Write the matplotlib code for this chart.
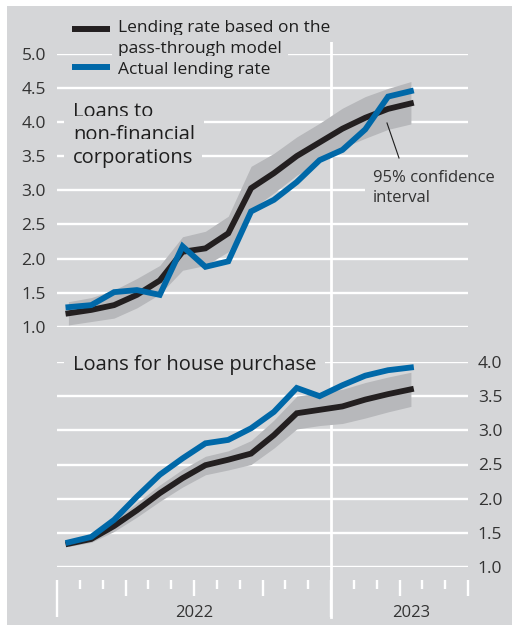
import numpy as np
import matplotlib
matplotlib.use("Agg")
import matplotlib.pyplot as plt
from matplotlib.lines import Line2D
from matplotlib.patches import Rectangle
import matplotlib.transforms as mtransforms

# ---- data (monthly, Jan 2022 .. Apr 2023) ----
months = np.arange(16) + 0.5  # mid-month positions, 0 = start of Jan 2022

nfc_model = [1.20, 1.25, 1.32, 1.47, 1.68, 2.10, 2.15, 2.37, 3.03, 3.25, 3.50, 3.70, 3.90, 4.06, 4.19, 4.27]
nfc_actual = [1.29, 1.32, 1.51, 1.54, 1.47, 2.18, 1.88, 1.96, 2.69, 2.86, 3.12, 3.44, 3.59, 3.89, 4.37, 4.45]
nfc_upper = [1.37, 1.43, 1.54, 1.71, 1.90, 2.32, 2.40, 2.62, 3.35, 3.54, 3.78, 3.98, 4.20, 4.37, 4.49, 4.59]
nfc_lower = [1.03, 1.08, 1.13, 1.28, 1.48, 1.83, 1.90, 2.10, 2.72, 2.96, 3.22, 3.42, 3.62, 3.76, 3.89, 3.97]

hp_model = [1.34, 1.41, 1.60, 1.83, 2.08, 2.30, 2.49, 2.57, 2.66, 2.93, 3.25, 3.30, 3.35, 3.45, 3.53, 3.60]
hp_actual = [1.36, 1.44, 1.69, 2.03, 2.35, 2.59, 2.81, 2.86, 3.03, 3.27, 3.62, 3.50, 3.66, 3.80, 3.88, 3.92]
hp_upper = [1.38, 1.47, 1.68, 1.94, 2.20, 2.43, 2.62, 2.70, 2.85, 3.15, 3.50, 3.55, 3.60, 3.70, 3.78, 3.85]
hp_lower = [1.30, 1.36, 1.52, 1.73, 1.96, 2.17, 2.35, 2.42, 2.50, 2.74, 3.02, 3.07, 3.10, 3.18, 3.27, 3.35]

top_ticks = [1.0, 1.5, 2.0, 2.5, 3.0, 3.5, 4.0, 4.5, 5.0]
bot_ticks = [1.0, 1.5, 2.0, 2.5, 3.0, 3.5, 4.0]
year_labels = ["2022", "2023"]
year_centers = [6, 15.5]

# ---- style ----
BG = "#d5d6d8"
BAND = "#b7b8bb"
BLACK = "#231f20"
BLUE = "#0068a8"
TXT = "#1e1e1e"
TICK = "#333333"
FONT = ["Open Sans", "DejaVu Sans"]
plt.rcParams["font.family"] = FONT

W, H = 512, 625
fig = plt.figure(figsize=(W / 100, H / 100), dpi=100, facecolor="white")

def fx(x):
    return x / W

def fy(y):
    return 1 - y / H

fig.add_artist(Rectangle((fx(7), 0), 1 - fx(7), fy(6), transform=fig.transFigure,
                         facecolor=BG, edgecolor="none", zorder=-10))

L, R = 57, 468
ax1 = fig.add_axes([fx(L), fy(327), fx(R) - fx(L), fy(53.5) - fy(327)])
ax2 = fig.add_axes([fx(L), fy(567), fx(R) - fx(L), fy(362) - fy(567)])

GRID_LW = 1.7
LINE_LW = 4.2
TICK_FS = 12.5

for ax, ticks, side in [(ax1, top_ticks, "left"), (ax2, bot_ticks, "right")]:
    ax.set_facecolor("none")
    ax.set_xlim(0, 18)
    ax.set_ylim(ticks[0], ticks[-1])
    for s in ax.spines.values():
        s.set_visible(False)
    ax.set_xticks([])
    ax.set_yticks(ticks)
    ax.set_yticklabels([f"{t:.1f}" for t in ticks])
    ax.grid(axis="y", color="white", lw=GRID_LW, zorder=0)
    ax.set_axisbelow(True)
    if side == "left":
        ax.tick_params(axis="y", length=0, pad=8, labelsize=TICK_FS, labelcolor=TICK)
    else:
        ax.yaxis.tick_right()
        ax.tick_params(axis="y", length=0, pad=7, labelsize=TICK_FS, labelcolor=TICK,
                       left=False, labelleft=False, right=False, labelright=True)

ax1.fill_between(months, nfc_lower, nfc_upper, color=BAND, lw=0, zorder=2)
ax1.plot(months, nfc_model, color=BLACK, lw=LINE_LW, zorder=3, solid_joinstyle="miter")
ax1.plot(months, nfc_actual, color=BLUE, lw=LINE_LW, zorder=4, solid_joinstyle="miter")

ax2.fill_between(months, hp_lower, hp_upper, color=BAND, lw=0, zorder=2)
ax2.plot(months, hp_model, color=BLACK, lw=LINE_LW, zorder=3, solid_joinstyle="miter")
ax2.plot(months, hp_actual, color=BLUE, lw=LINE_LW, zorder=4, solid_joinstyle="miter")

# year separator
trans = mtransforms.blended_transform_factory(ax1.transData, fig.transFigure)
fig.add_artist(Line2D([12, 12], [fy(42), fy(617)], transform=trans,
                      color="white", lw=2.0, zorder=-5))

# x ticks
axt = fig.add_axes([fx(L), fy(617), fx(R) - fx(L), fy(580) - fy(617)])
axt.set_facecolor("none")
axt.set_axis_off()
axt.set_xlim(0, 18)
axt.set_ylim(37, 0)
for m in range(0, 19):
    if m % 12 == 0:
        ln = 37
    elif m % 3 == 0:
        ln = 16
    else:
        ln = 9
    axt.plot([m, m], [0, ln], color="white", lw=GRID_LW, clip_on=False,
             solid_capstyle="butt")
for c, lab in zip(year_centers, year_labels):
    axt.text(c, 37, lab, ha="center", va="baseline", fontsize=12, color=TICK)

# text helper
def boxed(x, y, s, size, color=TXT, pad=0.35):
    fig.text(fx(x), fy(y), s, ha="left", va="baseline", fontsize=size, color=color,
             zorder=5, bbox=dict(boxstyle=f"square,pad={pad}", fc=BG, ec="none"))

# legend
fig.add_artist(Line2D([fx(72), fx(110)], [fy(29), fy(29)], color=BLACK, lw=4.3,
                      solid_capstyle="butt", transform=fig.transFigure, zorder=6))
fig.add_artist(Line2D([fx(72), fx(110)], [fy(67), fy(67)], color=BLUE, lw=4.3,
                      solid_capstyle="butt", transform=fig.transFigure, zorder=6))
boxed(118, 32, "Lending rate based on the", 12.5)
boxed(118, 53, "pass-through model", 12.5)
boxed(118, 74, "Actual lending rate", 12.5)

# panel titles
boxed(73, 117, "Loans to", 14.5, pad=0.45)
boxed(73, 140, "non-financial", 14.5, pad=0.45)
boxed(73, 163, "corporations", 14.5, pad=0.45)
boxed(73, 370, "Loans for house purchase", 14.5, pad=0.45)

# CI annotation
boxed(373, 182, "95% confidence", 12, TICK, pad=0.5)
boxed(373, 202, "interval", 12, TICK, pad=0.5)
fig.add_artist(Line2D([fx(387), fx(399)], [fy(123), fy(158)], color=TXT, lw=0.8,
                      transform=fig.transFigure, zorder=6))

fig.savefig("out.png", dpi=100, facecolor="white")
